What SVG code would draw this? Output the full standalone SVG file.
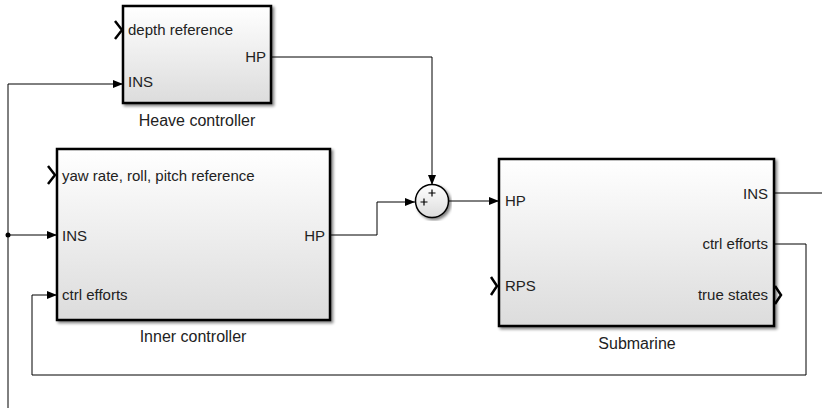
<svg xmlns="http://www.w3.org/2000/svg" width="822" height="408" viewBox="0 0 822 408">
<defs>
<linearGradient id="g" x1="0" y1="0" x2="0" y2="1">
<stop offset="0" stop-color="#ffffff"/>
<stop offset="1" stop-color="#dcdcdc"/>
</linearGradient>
<marker id="arr" markerWidth="10" markerHeight="8" refX="10" refY="4" orient="auto" markerUnits="userSpaceOnUse">
<path d="M0,0 L10,4 L0,8 Z" fill="#000"/>
</marker>
<filter id="sh" x="-5%" y="-5%" width="115%" height="115%">
<feGaussianBlur in="SourceAlpha" stdDeviation="1.5"/>
<feOffset dx="2" dy="2"/>
<feComponentTransfer><feFuncA type="linear" slope="0.5"/></feComponentTransfer>
<feMerge><feMergeNode/><feMergeNode in="SourceGraphic"/></feMerge>
</filter>
</defs>
<style>
.blk{fill:url(#g);stroke:#000;stroke-width:2.5;filter:url(#sh)}
.t{font-family:"Liberation Sans",Arial,sans-serif;font-size:15px;fill:#222}
.lbl{font-family:"Liberation Sans",Arial,sans-serif;font-size:16px;fill:#222}
.w{fill:none;stroke:#000;stroke-width:1}
.chev{fill:none;stroke:#000;stroke-width:2.5}
.pl{fill:none;stroke:#000;stroke-width:1.2}
</style>
<g id="connectors">
<path class="w" d="M271,57 H432 V185" marker-end="url(#arr)"/>
<path class="w" d="M330,235 H377 V202 H415" marker-end="url(#arr)"/>
<path class="w" d="M449,201 H499" marker-end="url(#arr)"/>
<path class="w" d="M774,193 H822"/>
<path class="w" d="M8,408 V84 H123" marker-end="url(#arr)"/>
<path class="w" d="M8,235 H57" marker-end="url(#arr)"/>
<path class="w" d="M774,244 H806 V375 H32 V295 H57" marker-end="url(#arr)"/>
<circle cx="8" cy="235" r="2.5" fill="#000"/>
</g>
<g id="heave">
<rect class="blk" x="123" y="6" width="148" height="97"/>
<path class="chev" d="M115,21 L122,30 L115,39"/>
<text class="t" x="128" y="35">depth reference</text>
<text class="t" x="266" y="62" text-anchor="end">HP</text>
<text class="t" x="128" y="87">INS</text>
<text class="lbl" x="197" y="126" text-anchor="middle">Heave controller</text>
</g>
<g id="inner">
<rect class="blk" x="57" y="149" width="273" height="171"/>
<path class="chev" d="M48,166 L55,175 L48,184"/>
<text class="t" x="62" y="181">yaw rate, roll, pitch reference</text>
<text class="t" x="62" y="241">INS</text>
<text class="t" x="62" y="300">ctrl efforts</text>
<text class="t" x="325" y="241" text-anchor="end">HP</text>
<text class="lbl" x="193" y="342" text-anchor="middle">Inner controller</text>
</g>
<g id="sum">
<circle cx="432" cy="201" r="16.5" fill="url(#g)" stroke="#000" stroke-width="1.5" filter="url(#sh)"/>
<path class="pl" d="M428.5,193 H435.5 M432,189.5 V196.5 M420.5,202 H427.5 M424,198.5 V205.5"/>
</g>
<g id="submarine">
<rect class="blk" x="499" y="159" width="275" height="167"/>
<path class="chev" d="M491,277 L497,286 L491,295"/>
<path class="chev" d="M775,286 L781,295 L775,304"/>
<text class="t" x="505" y="206">HP</text>
<text class="t" x="505" y="291">RPS</text>
<text class="t" x="768" y="199" text-anchor="end">INS</text>
<text class="t" x="768" y="249" text-anchor="end">ctrl efforts</text>
<text class="t" x="768" y="300" text-anchor="end">true states</text>
<text class="lbl" x="637" y="349" text-anchor="middle">Submarine</text>
</g>
</svg>
